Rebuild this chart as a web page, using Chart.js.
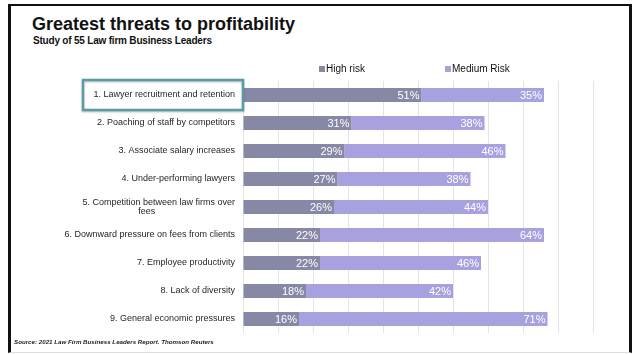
<!DOCTYPE html>
<html>
<head>
<meta charset="utf-8">
<script src="https://cdn.jsdelivr.net/npm/chart.js@4.4.1/dist/chart.umd.min.js"></script>
<style>
  html, body { margin: 0; padding: 0; background: #fff; }
  #slide { position: relative; width: 635px; height: 354px; overflow: hidden; font-family: 'Liberation Sans', Arial, sans-serif; }
  #frame { position: absolute; left: 8px; top: 4px; width: 618px; height: 346px;
           border-left: 3px solid #111; border-top: 2px solid #111; border-right: 3px solid #111; border-bottom: 1px solid #ddd; }
  #title { position: absolute; left: 32px; top: 15px; font-size: 18px; line-height: 18px; font-weight: bold; color: #111; white-space: nowrap; }
  #subtitle { position: absolute; left: 33px; top: 35.5px; font-size: 10px; line-height: 10px; font-weight: bold; color: #111; letter-spacing: -0.2px; white-space: nowrap; }
  #source { position: absolute; left: 14px; top: 339px; font-size: 6.2px; line-height: 6.2px; font-weight: bold; font-style: italic; color: #222; white-space: nowrap; }
  #chart { position: absolute; left: 0; top: 0; }
</style>
</head>
<body>
<div id="slide">
  <div id="frame"></div>
  <div id="title">Greatest threats to profitability</div>
  <div id="subtitle">Study of 55 Law firm Business Leaders</div>
  <canvas id="chart" width="635" height="354"></canvas>
  <div id="source">Source: 2021 Law Firm Business Leaders Report. Thomson Reuters</div>
</div>
<script>
// Survey answers, one entry per threat (percent of respondents)
const categories = [
  '1. Lawyer recruitment and retention',
  '2. Poaching of staff by competitors',
  '3. Associate salary increases',
  '4. Under-performing lawyers',
  ['5. Competition between law firms over', 'fees'],
  '6. Downward pressure on fees from clients',
  '7. Employee productivity',
  '8. Lack of diversity',
  '9. General economic pressures'
];
const highRisk = [51, 31, 29, 27, 26, 22, 22, 18, 16];
const mediumRisk = [35, 38, 46, 38, 44, 64, 46, 42, 71];
const seriesNames = ['High risk', 'Medium Risk'];
const axisMax = 100;
const axisStep = 10;

const HIGH_COLOR = '#8688a6';
const MEDIUM_COLOR = '#a7a2df';
const FONT = "'Liberation Sans', Arial, sans-serif";

// Draws category labels, the highlight box, the legend and the white value labels
const annotations = {
  id: 'annotations',
  afterDatasetsDraw(chart) {
    const ctx = chart.ctx;
    const area = chart.chartArea;
    const yScale = chart.scales.y;

    ctx.save();

    // value labels inside each segment, right aligned
    ctx.font = '11px ' + FONT;
    ctx.fillStyle = '#ffffff';
    ctx.textAlign = 'right';
    ctx.textBaseline = 'middle';
    chart.data.datasets.forEach((ds, di) => {
      chart.getDatasetMeta(di).data.forEach((bar, i) => {
        ctx.fillText(ds.data[i] + '%', bar.x - 2, bar.y + 0.5);
      });
    });

    // category labels
    ctx.font = '9px ' + FONT;
    ctx.fillStyle = '#262626';
    const labelRight = area.left - 8;
    categories.forEach((label, i) => {
      const y = yScale.getPixelForValue(i);
      if (Array.isArray(label)) {
        const w = ctx.measureText(label[0]).width;
        ctx.textAlign = 'right';
        ctx.fillText(label[0], labelRight, y - 4);
        ctx.textAlign = 'center';
        ctx.fillText(label[1], labelRight - w / 2 - 12, y + 5);
      } else {
        ctx.textAlign = 'right';
        ctx.fillText(label, labelRight, y);
      }
    });

    // highlight box around the first threat
    const y0 = yScale.getPixelForValue(0);
    ctx.shadowColor = 'rgba(0,0,0,0.25)';
    ctx.shadowBlur = 2;
    ctx.shadowOffsetY = 1;
    ctx.strokeStyle = '#5b9ba4';
    ctx.lineWidth = 2.5;
    ctx.strokeRect(83, y0 - 15, area.left - 83, 30);
    ctx.shadowColor = 'transparent';

    // legend
    ctx.font = '10px ' + FONT;
    ctx.textAlign = 'left';
    const legendY = 69;
    const legendX = [319, 445];
    chart.data.datasets.forEach((ds, di) => {
      ctx.fillStyle = ds.backgroundColor;
      ctx.fillRect(legendX[di], legendY - 3, 6, 6);
      ctx.fillStyle = '#111111';
      ctx.fillText(ds.label, legendX[di] + 7, legendY + 0.5);
    });

    ctx.restore();
  }
};

new Chart(document.getElementById('chart'), {
  type: 'bar',
  data: {
    labels: categories,
    datasets: [
      { label: seriesNames[0], data: highRisk, backgroundColor: HIGH_COLOR, borderWidth: 0 },
      { label: seriesNames[1], data: mediumRisk, backgroundColor: MEDIUM_COLOR, borderWidth: 0 }
    ]
  },
  options: {
    indexAxis: 'y',
    responsive: false,
    animation: false,
    devicePixelRatio: 1,
    layout: { padding: { left: 243, right: 42, top: 81, bottom: 21 } },
    datasets: { bar: { barPercentage: 1, categoryPercentage: 0.5 } },
    plugins: {
      legend: { display: false },
      tooltip: { enabled: false }
    },
    scales: {
      x: {
        stacked: true,
        min: 0,
        max: axisMax,
        ticks: { display: false, stepSize: axisStep },
        grid: { color: '#e4e4e4', lineWidth: 1, drawTicks: false },
        border: { display: false }
      },
      y: {
        stacked: true,
        display: false
      }
    }
  },
  plugins: [annotations]
});
</script>
</body>
</html>
